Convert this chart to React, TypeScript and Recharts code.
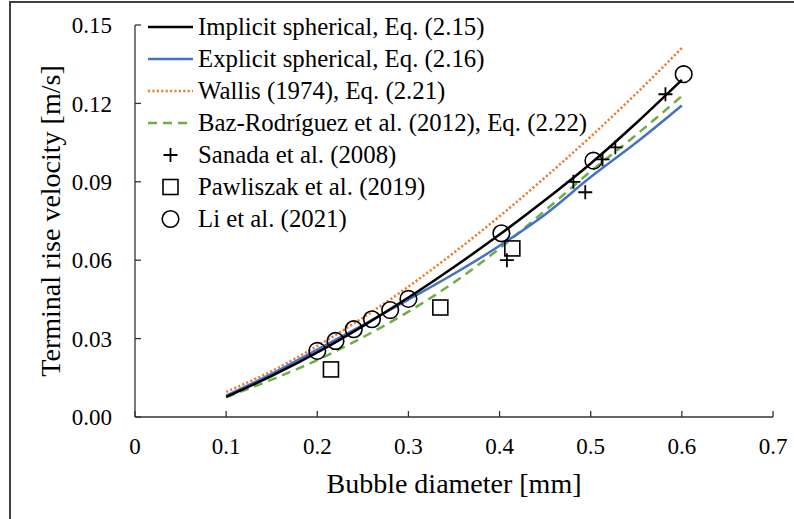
import React from "react"
import {
  ComposedChart,
  Line,
  Scatter,
  XAxis,
  YAxis,
  Legend,
} from "recharts"

// model curves
const diameters = [0.1, 0.15, 0.2, 0.25, 0.3, 0.35, 0.4, 0.45, 0.5, 0.55, 0.6]
const implicitV = [0.0077, 0.0157, 0.0247, 0.0348, 0.0457, 0.0574, 0.0698, 0.083, 0.097, 0.1125, 0.129]
const explicitV = [0.0082, 0.0165, 0.0258, 0.0352, 0.0449, 0.0548, 0.0655, 0.0775, 0.0918, 0.105, 0.1192]
const wallisV = [0.0096, 0.0176, 0.0272, 0.038, 0.0499, 0.0629, 0.0768, 0.0917, 0.1073, 0.1238, 0.1412]
const bazV = [0.0076, 0.0143, 0.0218, 0.0305, 0.0403, 0.0515, 0.0645, 0.079, 0.094, 0.108, 0.1228]

// experiments
const sanadaD = [0.408, 0.481, 0.494, 0.513, 0.527, 0.582]
const sanadaV = [0.06, 0.09, 0.086, 0.0986, 0.1032, 0.1235]
const pawliszakD = [0.215, 0.335, 0.414]
const pawliszakV = [0.0182, 0.0419, 0.0645]
const liD = [0.2, 0.22, 0.24, 0.26, 0.28, 0.3, 0.402, 0.503, 0.602]
const liV = [0.0253, 0.0291, 0.0336, 0.0374, 0.0409, 0.0452, 0.0703, 0.0981, 0.1312]

const xTicks = [0, 0.1, 0.2, 0.3, 0.4, 0.5, 0.6, 0.7]
const yTicks = [0, 0.03, 0.06, 0.09, 0.12, 0.15]

const legendNames = [
  "Implicit spherical, Eq. (2.15)",
  "Explicit spherical, Eq. (2.16)",
  "Wallis (1974), Eq. (2.21)",
  "Baz-Rodríguez et al. (2012), Eq. (2.22)",
  "Sanada et al. (2008)",
  "Pawliszak et al. (2019)",
  "Li et al. (2021)",
]

const pts = (xs: number[], ys: number[]) => xs.map((x, i) => ({ x, y: ys[i] }))

const FONT = '"Liberation Serif", "Times New Roman", serif'

const Plus = (p: any) => (
  <path d={`M${p.cx - 7},${p.cy}H${p.cx + 7}M${p.cx},${p.cy - 7}V${p.cy + 7}`} stroke="#000" strokeWidth={1.8} fill="none" />
)
const Square = (p: any) => (
  <rect x={p.cx - 7.5} y={p.cy - 7.5} width={15} height={15} stroke="#000" strokeWidth={1.6} fill="none" />
)
const Ring = (p: any) => (
  <circle cx={p.cx} cy={p.cy} r={8.3} stroke="#000" strokeWidth={1.6} fill="none" />
)

const icon = (i: number) => {
  const line = (color: string, dash?: string) => (
    <line x1={0} y1={8} x2={45} y2={8} stroke={color} strokeWidth={2.5} strokeDasharray={dash} />
  )
  if (i === 0) return line("#000")
  if (i === 1) return line("#4472C4")
  if (i === 2) return line("#ED7D31", "2.2 2.2")
  if (i === 3) return line("#70AD47", "9 6")
  if (i === 4) return <Plus cx={22.5} cy={8} />
  if (i === 5) return <Square cx={22.5} cy={8} />
  return <Ring cx={22.5} cy={8} />
}

const renderLegend = () => (
  <div style={{ fontFamily: FONT, fontSize: 24.8, color: "#000" }}>
    {legendNames.map((name, i) => (
      <div key={name} style={{ display: "flex", alignItems: "center", height: 32, whiteSpace: "nowrap" }}>
        <svg width={45} height={17} style={{ overflow: "visible" }}>{icon(i)}</svg>
        <span style={{ marginLeft: 5 }}>{name}</span>
      </div>
    ))}
  </div>
)

export default function App() {
  return (
    <div style={{ position: "absolute", left: 0, top: 0, width: 794, height: 519, background: "#fff" }}>
      <div
        style={{
          position: "absolute",
          left: 9,
          top: 1,
          right: 0,
          bottom: 0,
          borderLeft: "2px solid #404040",
          borderTop: "2px solid #404040",
        }}
      />
      <div style={{ position: "absolute", left: 0, top: 0 }}>
        <ComposedChart
          width={794}
          height={519}
          margin={{ top: 25, right: 21, bottom: 42, left: 60 }}
          style={{ fontFamily: FONT }}
        >
          <XAxis
            type="number"
            dataKey="x"
            domain={[0, 0.7]}
            ticks={xTicks}
            tickFormatter={(v: number) => String(v)}
            height={60}
            stroke="#333"
            strokeWidth={1.3}
            tickSize={-6}
            tickMargin={27}
            tick={{ fill: "#000", fontSize: 23, fontFamily: FONT }}
            allowDataOverflow
            label={{
              content: (props: any) => {
                const vb = props.viewBox
                return (
                  <text x={vb.x + vb.width / 2} y={492.5} textAnchor="middle" fontSize={28} fontFamily={FONT} fill="#000">
                    Bubble diameter [mm]
                  </text>
                )
              },
            }}
          />
          <YAxis
            type="number"
            domain={[0, 0.15]}
            ticks={yTicks}
            tickFormatter={(v: number) => v.toFixed(2)}
            width={75}
            stroke="#333"
            strokeWidth={1.3}
            tickSize={-6}
            tickMargin={29}
            tick={{ fill: "#000", fontSize: 23, fontFamily: FONT }}
            allowDataOverflow
            label={{
              content: (props: any) => {
                const vb = props.viewBox
                const cy = vb.y + vb.height / 2
                return (
                  <text
                    x={60}
                    y={cy}
                    transform={`rotate(-90 60 ${cy})`}
                    textAnchor="middle"
                    fontSize={28}
                    fontFamily={FONT}
                    fill="#000"
                  >
                    Terminal rise velocity [m/s]
                  </text>
                )
              },
            }}
          />
          <Legend
            layout="vertical"
            align="center"
            verticalAlign="middle"
            content={renderLegend}
            wrapperStyle={{ left: 148, top: 11, width: "auto" }}
          />
          <Line data={pts(diameters, wallisV)} dataKey="y" type="monotone" stroke="#ED7D31" strokeWidth={2.5} strokeDasharray="2.2 2.2" dot={false} isAnimationActive={false} />
          <Line data={pts(diameters, bazV)} dataKey="y" type="monotone" stroke="#70AD47" strokeWidth={2.5} strokeDasharray="9 6" dot={false} isAnimationActive={false} />
          <Line data={pts(diameters, explicitV)} dataKey="y" type="monotone" stroke="#4472C4" strokeWidth={2.5} dot={false} isAnimationActive={false} />
          <Line data={pts(diameters, implicitV)} dataKey="y" type="monotone" stroke="#000" strokeWidth={2.5} dot={false} isAnimationActive={false} />
          <Scatter data={pts(sanadaD, sanadaV)} dataKey="y" shape={Plus} isAnimationActive={false} />
          <Scatter data={pts(pawliszakD, pawliszakV)} dataKey="y" shape={Square} isAnimationActive={false} />
          <Scatter data={pts(liD, liV)} dataKey="y" shape={Ring} isAnimationActive={false} />
        </ComposedChart>
      </div>
    </div>
  )
}
